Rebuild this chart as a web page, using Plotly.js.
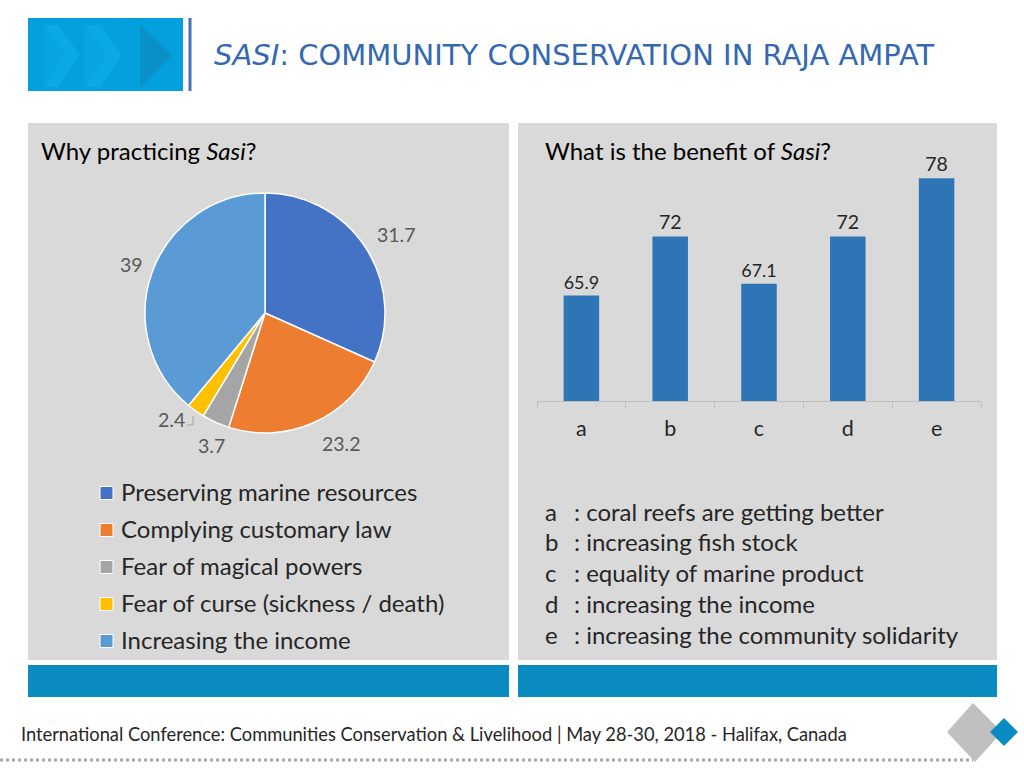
<!DOCTYPE html>
<html>
<head>
<meta charset="utf-8">
<script src="https://cdn.plot.ly/plotly-3.0.1.min.js"></script>
<style>html,body{margin:0;padding:0;background:#fff;} #chart{width:1024px;height:768px;}</style>
</head>
<body>
<div id="chart"></div>
<script>
// ---- data ----
const pieLabels = ['Preserving marine resources', 'Complying customary law', 'Fear of magical powers', 'Fear of curse (sickness / death)', 'Increasing the income'];
const pieValues = [31.7, 23.2, 3.7, 2.4, 39];
const pieColors = ['#4472c4', '#ed7d31', '#a5a5a5', '#ffc000', '#5b9bd5'];
const barCategories = ['a', 'b', 'c', 'd', 'e'];
const barValues = [65.9, 72, 67.1, 72, 78];
const barDescriptions = ['coral reefs are getting better', 'increasing fish stock', 'equality of marine product', 'increasing the income', 'increasing the community solidarity'];
const titleText = '<i>SASI</i>: COMMUNITY CONSERVATION IN RAJA AMPAT';
const footerText = 'International Conference: Communities Conservation &amp; Livelihood | May 28-30, 2018 - Halifax, Canada';

// ---- helpers: pixel -> paper ----
const W = 1024, H = 768;
const px = x => x / W;
const py = y => 1 - y / H;
const BODY = 'Lato, "Open Sans", sans-serif';

const shapes = [];
const annotations = [];

function rect(x0, y0, x1, y1, color, layer) {
  shapes.push({type: 'rect', xref: 'paper', yref: 'paper', x0: px(x0), x1: px(x1), y0: py(y1), y1: py(y0),
    fillcolor: color, line: {width: 0}, layer: layer || 'below'});
}
function poly(points, color, layer) {
  const d = 'M' + points.map(p => px(p[0]) + ',' + py(p[1])).join('L') + 'Z';
  shapes.push({type: 'path', xref: 'paper', yref: 'paper', path: d, fillcolor: color, line: {width: 0}, layer: layer || 'below'});
}
function text(x, y, t, size, color, anchor, family, extra) {
  annotations.push(Object.assign({xref: 'paper', yref: 'paper', x: px(x), y: py(y), text: t, showarrow: false,
    xanchor: anchor || 'left', yanchor: 'middle', font: {size: size, color: color, family: family || BODY}}, extra || {}));
}

// header
rect(28, 18, 183, 91, '#03a0dd');
poly([[43, 25], [58, 25], [80, 55], [58, 87], [43, 87], [65, 55]], '#0aa9e6');
poly([[43, 25], [65, 55], [43, 87]], '#08a4e2');
poly([[84, 25], [100, 25], [122, 55], [100, 87], [84, 87], [106, 55]], '#0aa9e6');
poly([[84, 25], [106, 55], [84, 87]], '#08a4e2');
poly([[140, 25], [172, 55], [140, 88]], '#0990c9');
shapes.push({type: 'line', xref: 'paper', yref: 'paper', x0: px(190), x1: px(190), y0: py(18), y1: py(91), line: {color: '#4a6fb5', width: 3}});
text(212, 55, titleText, 29, '#3468b1', 'left', '"DejaVu Sans", sans-serif');

// panels
rect(28, 123, 509, 660, '#d9d9d9');
rect(518, 123, 997, 660, '#d9d9d9');
rect(28, 665, 509, 697, '#0a8cc3');
rect(518, 665, 997, 697, '#0a8cc3');

// panel titles
text(39, 150, 'Why practicing <i>Sasi</i>?', 24, '#000000');
text(543, 150, 'What is the benefit of <i>Sasi</i>?', 24, '#000000');

// pie value labels
const pieLabelPos = [[396, 235], [341, 443], [211, 445], [171, 419], [131, 265]];
pieValues.forEach((v, i) => text(pieLabelPos[i][0], pieLabelPos[i][1], String(v), 19.5, '#595959', 'center'));
shapes.push({type: 'path', xref: 'paper', yref: 'paper', path: 'M' + px(187) + ',' + py(425) + 'L' + px(193) + ',' + py(425) + 'L' + px(193) + ',' + py(416),
  line: {color: '#a6a6a6', width: 1}});

// pie legend (manual)
pieLabels.forEach((lab, i) => {
  const y = 493 + i * 37;
  shapes.push({type: 'rect', xref: 'paper', yref: 'paper', x0: px(100), x1: px(113), y0: py(y + 6.5), y1: py(y - 6.5),
    fillcolor: pieColors[i], line: {color: '#ffffff', width: 1}, layer: 'above'});
  text(119, y - 2, lab, 24, '#262626');
});

// bar description legend
barCategories.forEach((c, i) => {
  const y = 511 + i * 30.8;
  text(543, y, c, 24, '#262626');
  text(572, y, ': ' + barDescriptions[i], 24, '#262626');
});

// footer
text(19, 734, footerText, 18.3, '#262626');
shapes.push({type: 'line', xref: 'paper', yref: 'paper', x0: px(0), x1: px(973), y0: py(760), y1: py(760),
  line: {color: '#a6a6a6', width: 3, dash: '3px,3px'}});
poly([[973, 703], [1002, 732], [975, 762], [947, 732]], '#c0c0c0', 'above');
poly([[1004, 718], [1018, 732], [1004, 746], [990, 732]], '#0a8cc3', 'above');

const data = [
  {
    type: 'pie', labels: pieLabels, values: pieValues, sort: false, direction: 'clockwise', rotation: 0,
    marker: {colors: pieColors, line: {color: '#ffffff', width: 1.5}},
    textinfo: 'none', hoverinfo: 'label+value', showlegend: false,
    domain: {x: [px(145), px(385)], y: [py(433), py(193)]}
  },
  {
    type: 'bar', x: barCategories, y: barValues, marker: {color: '#2e75b6'},
    text: barValues.map(String), textposition: 'outside', cliponaxis: false,
    textfont: {size: 19.5, color: '#262626', family: BODY}, showlegend: false,
    xaxis: 'x', yaxis: 'y'
  }
];

const layout = {
  width: W, height: H, margin: {l: 0, r: 0, t: 0, b: 0},
  paper_bgcolor: '#ffffff', plot_bgcolor: 'rgba(0,0,0,0)',
  bargap: 0.6,
  xaxis: {domain: [px(537), px(981)], type: 'category', showgrid: false, zeroline: false,
    showline: true, linecolor: '#bfbfbf', linewidth: 1, ticks: 'outside', tickson: 'boundaries', ticklen: 6, tickcolor: '#bfbfbf',
    tickfont: {size: 21.5, color: '#262626', family: BODY}, ticklabelstandoff: 8, fixedrange: true},
  yaxis: {domain: [py(401), py(159)], range: [55, 80], visible: false, fixedrange: true},
  shapes: shapes,
  annotations: annotations,
  font: {family: BODY}
};

Plotly.newPlot('chart', data, layout, {displayModeBar: false, staticPlot: true});
</script>
</body>
</html>
